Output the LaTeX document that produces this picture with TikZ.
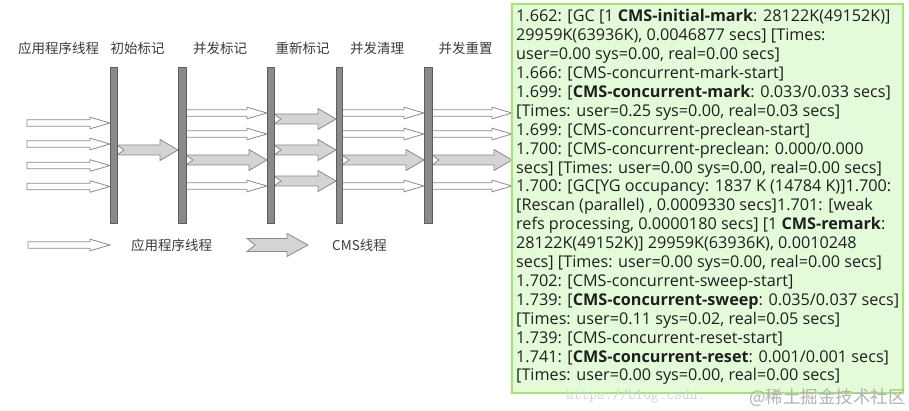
\documentclass[tikz,border=0pt]{standalone}
\usepackage{fontspec}
\setmainfont{Open Sans}
\newfontfamily\cjk{Noto Sans CJK SC}
\definecolor{barfill}{HTML}{8A8A8A}
\definecolor{barline}{HTML}{5E5E5E}
\definecolor{arrline}{HTML}{8A8A8A}
\definecolor{cmsfill}{HTML}{D4D4D4}
\definecolor{boxfill}{HTML}{E4FBDA}
\definecolor{boxline}{HTML}{A5E66E}
\definecolor{labtext}{HTML}{3A3A3A}
\tikzset{
  barstyle/.style={fill=barfill,draw=barline,line width=0.8pt},
  warrow/.style={fill=white,draw=arrline,line width=0.8pt,line join=miter},
  carrow/.style={fill=cmsfill,draw=arrline,line width=0.8pt,line join=miter},
  phase/.style={font=\cjk\fontsize{13.5}{15}\selectfont,text=labtext,inner sep=0pt},
  logbox/.style={fill=boxfill,draw=boxline,line width=2pt},
}
% white arrow: x1, x2, y
\newcommand\wArrow[3]{%
  \filldraw[warrow] (#1,#3-3.3) -- (#2-20,#3-3.3) -- (#2-20,#3-5.8) -- (#2,#3)
    -- (#2-20,#3+5.8) -- (#2-20,#3+3.3) -- (#1,#3+3.3) -- cycle;}
% CMS arrow: x1, x2, y
\newcommand\cArrow[3]{%
  \filldraw[carrow] (#1,#3-5) -- (#2-18,#3-5) -- (#2-18,#3-10.5) -- (#2,#3)
    -- (#2-18,#3+10.5) -- (#2-18,#3+5) -- (#1,#3+5) -- (#1+7,#3) -- cycle;}
\begin{document}
\begin{tikzpicture}[x=1pt,y=-1pt]
\useasboundingbox (0,0) rectangle (909,411);
% phase labels
\node[phase] (l0) at (58.5,48) {应用程序线程};
\node[phase] (l1) at (137.5,48) {初始标记};
\node[phase] (l2) at (220,48) {并发标记};
\node[phase] (l3) at (302.5,48) {重新标记};
\node[phase] (l4) at (377,48) {并发清理};
\node[phase] (l5) at (465.5,48) {并发重置};
% application threads before initial mark
\foreach \y in {123,144,165.5,186.5} {\wArrow{27}{110}{\y}}
% initial mark -> concurrent mark
\cArrow{117}{178}{150}
% concurrent mark -> remark
\wArrow{186}{267}{113}
\wArrow{186}{267}{134}
\cArrow{186}{267}{160}
\wArrow{186}{267}{186}
% remark -> sweep
\cArrow{274}{336}{119}
\cArrow{274}{336}{150}
\cArrow{274}{336}{181}
% sweep -> reset
\wArrow{342}{424}{113}
\wArrow{342}{424}{134}
\cArrow{342}{424}{160}
\wArrow{342}{424}{186}
% after reset
\wArrow{432}{512}{113}
\wArrow{432}{512}{134}
\cArrow{432}{512}{160}
\wArrow{432}{512}{186}
% bars
\foreach \xa/\xb in {110/117,178/186,267/274,336/342,424/432}
  {\filldraw[barstyle] (\xa,67) rectangle (\xb,223);}
% legend
\wArrow{28}{110}{245}
\node[phase] (lg1) at (171.5,245) {应用程序线程};
\filldraw[carrow] (247,238.5) -- (287,238.5) -- (287,233.5) -- (308,245)
  -- (287,256.5) -- (287,251.5) -- (247,251.5) -- (255,245) -- cycle;
\node[phase] (lg2) at (359.5,245) {CMS线程};
% log box
\filldraw[logbox] (512,4) rectangle (903,393);
\node[anchor=north west,inner sep=0pt,align=left,
      font=\fontsize{16.2}{18.9}\selectfont,text=black!88] (log) at (516,9.3) {%
1.662: [GC [1 \textbf{CMS-initial-mark}: 28122K(49152K)]\\
29959K(63936K), 0.0046877 secs] [Times:\\
user=0.00 sys=0.00, real=0.00 secs]\\
1.666: [CMS-concurrent-mark-start]\\
1.699: [\textbf{CMS-concurrent-mark}: 0.033/0.033 secs]\\
{[Times: user=0.25 sys=0.00, real=0.03 secs]}\\
1.699: [CMS-concurrent-preclean-start]\\
1.700: [CMS-concurrent-preclean: 0.000/0.000\\
secs] [Times: user=0.00 sys=0.00, real=0.00 secs]\\
1.700: [GC[YG occupancy: 1837 K (14784 K)]1.700:\\
{[Rescan (parallel) , 0.0009330 secs]1.701: [weak}\\
refs processing, 0.0000180 secs] [1 \textbf{CMS-remark}:\\
28122K(49152K)] 29959K(63936K), 0.0010248\\
secs] [Times: user=0.00 sys=0.00, real=0.00 secs]\\
1.702: [CMS-concurrent-sweep-start]\\
1.739: [\textbf{CMS-concurrent-sweep}: 0.035/0.037 secs]\\
{[Times: user=0.11 sys=0.02, real=0.05 secs]}\\
1.739: [CMS-concurrent-reset-start]\\
1.741: [\textbf{CMS-concurrent-reset}: 0.001/0.001 secs]\\
{[Times: user=0.00 sys=0.00, real=0.00 secs]}};
% watermark
\node[anchor=west,inner sep=0pt,font=\ttfamily\fontsize{15}{15}\selectfont,text=black!18] (wm1) at (566,396) {https://blog.csdn.};
\node[anchor=east,inner sep=0pt,font=\cjk\fontsize{17.5}{17.5}\selectfont,text=black!30] (wm2) at (906,398) {@稀土掘金技术社区};
\end{tikzpicture}
\end{document}
